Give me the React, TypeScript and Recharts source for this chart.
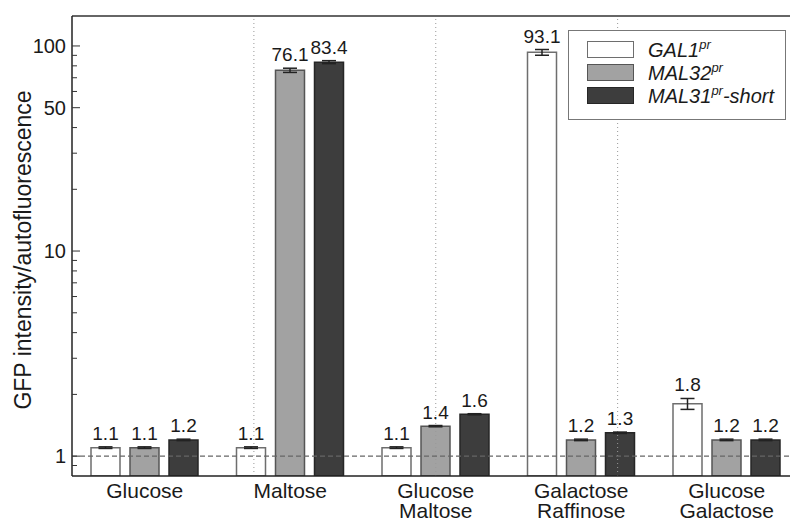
import React from 'react';
import {
  BarChart,
  Bar,
  XAxis,
  YAxis,
  ErrorBar,
  LabelList,
  ReferenceLine,
  Legend,
} from 'recharts';

// media / conditions (two-line labels split on \n)
const categories = ['Glucose', 'Maltose', 'Glucose\nMaltose', 'Galactose\nRaffinose', 'Glucose\nGalactose'];

// fold change per promoter
const gal1 = [1.1, 1.1, 1.1, 93.1, 1.8];
const mal32 = [1.1, 76.1, 1.4, 1.2, 1.2];
const mal31 = [1.2, 83.4, 1.6, 1.3, 1.2];

// error bar half-widths (estimated)
const gal1Err = [0.01, 0.01, 0.01, 3.0, 0.11];
const mal32Err = [0.01, 1.8, 0.01, 0.01, 0.01];
const mal31Err = [0.01, 1.4, 0.01, 0.01, 0.01];

const majorTicks = [1, 10, 50, 100];
const yTicks = [0.9, 1, 2, 3, 4, 5, 6, 7, 8, 9, 10, 20, 30, 40, 50, 60, 70, 80, 90, 100];

const Y_MIN = 0.8;
const Y_MAX = 140;

const W = 820;
const H = 520;
const M = { top: 16, right: 20.5, bottom: 0, left: 0 };
const X_AXIS_H = 44;
const PLOT_H = H - M.top - M.bottom - X_AXIS_H;
const PX_PER_DECADE = PLOT_H / Math.log10(Y_MAX / Y_MIN);

const FONT = '"Liberation Sans", Arial, Helvetica, sans-serif';

const series = [
  { key: 'gal1', err: 'gal1Err', vals: gal1, errs: gal1Err, fill: '#ffffff', stroke: '#6e6e6e', name: 'GAL1', suffix: '' },
  { key: 'mal32', err: 'mal32Err', vals: mal32, errs: mal32Err, fill: '#a2a2a2', stroke: '#555555', name: 'MAL32', suffix: '' },
  { key: 'mal31', err: 'mal31Err', vals: mal31, errs: mal31Err, fill: '#3d3d3d', stroke: '#262626', name: 'MAL31', suffix: '-short' },
];

const rows = categories.map((name, i) => ({
  name,
  gal1: gal1[i],
  mal32: mal32[i],
  mal31: mal31[i],
  gal1Err: gal1Err[i],
  mal32Err: mal32Err[i],
  mal31Err: mal31Err[i],
}));

const CatTick = ({ x, y, payload }: any) => {
  const lines = String(payload.value).split('\n');
  return (
    <g>
      {lines.map((l, i) => (
        <text key={i} x={x} y={y + 22 + i * 20} textAnchor="middle" fontSize={21} fontFamily={FONT} fill="#1a1a1a">
          {l}
        </text>
      ))}
    </g>
  );
};

const YTick = ({ x, y, payload }: any) => {
  const v = payload.value;
  const major = majorTicks.includes(v);
  return (
    <g>
      <line x1={x} x2={x + (major ? 8 : 5)} y1={y} y2={y} stroke="#333" strokeWidth={1} />
      {major && (
        <text x={x - 6} y={y} dy={7} textAnchor="end" fontSize={20} fontFamily={FONT} fill="#1a1a1a">
          {v}
        </text>
      )}
    </g>
  );
};

// value label sits just above the error bar's upper whisker
const makeLabel = (vals: number[], errs: number[]) => (p: any) => {
  const i = p.index;
  const v = vals[i];
  const e = errs[i];
  const lift = PX_PER_DECADE * Math.log10((v + e) / v);
  return (
    <text
      x={Number(p.x) + Number(p.width) / 2}
      y={Number(p.y) - lift - 7}
      textAnchor="middle"
      fontSize={19}
      fontFamily={FONT}
      fill="#1a1a1a"
    >
      {v.toFixed(1)}
    </text>
  );
};

const LegendBox = () => (
  <div
    style={{
      boxSizing: 'border-box',
      width: 218,
      height: 90,
      border: '1.5px solid #777',
      background: '#fff',
      padding: '7px 0 0 18px',
      fontFamily: FONT,
    }}
  >
    {series.map((s) => (
      <div key={s.key} style={{ display: 'flex', alignItems: 'center', height: 23 }}>
        <span
          style={{
            display: 'inline-block',
            boxSizing: 'border-box',
            width: 47,
            height: 17,
            background: s.fill,
            border: `1.5px solid ${s.stroke}`,
            marginRight: 14,
          }}
        />
        <span style={{ fontStyle: 'italic', fontSize: 20, color: '#1a1a1a', lineHeight: 1, whiteSpace: 'nowrap' }}>
          {s.name}
          <span style={{ fontSize: 13, position: 'relative', top: -8 }}>pr</span>
          {s.suffix}
        </span>
      </div>
    ))}
  </div>
);

export default function App() {
  return (
    <div style={{ position: 'absolute', left: 0, top: 0, width: 790, height: 520, overflow: 'hidden', background: '#fff' }}>
      <BarChart width={W} height={H} data={rows} margin={M} barCategoryGap={19} barGap={10}>
        <XAxis
          dataKey="name"
          height={X_AXIS_H}
          tickLine={false}
          tickSize={0}
          tickMargin={0}
          interval={0}
          axisLine={{ stroke: '#222', strokeWidth: 1.5 }}
          tick={<CatTick />}
        />
        <XAxis xAxisId="div" type="number" domain={[0, categories.length]} hide />
        <YAxis
          width={72}
          scale="log"
          type="number"
          domain={[Y_MIN, Y_MAX]}
          allowDataOverflow
          ticks={yTicks}
          interval={0}
          tickLine={false}
          tickSize={0}
          tickMargin={0}
          axisLine={{ stroke: '#222', strokeWidth: 1.5 }}
          tick={<YTick />}
          label={{
            content: () => (
              <text
                x={31}
                y={250}
                transform="rotate(-90 31 250)"
                textAnchor="middle"
                fontSize={23}
                fontFamily={FONT}
                fill="#1a1a1a"
              >
                GFP intensity/autofluorescence
              </text>
            ),
          }}
        />
        {[1, 2, 3, 4].map((d) => (
          <ReferenceLine key={d} x={d} xAxisId="div" stroke="#999" strokeDasharray="1 3" />
        ))}
        <ReferenceLine x={categories.length} xAxisId="div" stroke="#333" strokeWidth={1.5} />
        <ReferenceLine y={Y_MAX} stroke="#333" strokeWidth={1.5} />
        <ReferenceLine y={1} stroke="#666" strokeDasharray="5 3" strokeWidth={1.2} />
        {series.map((s) => (
          <Bar
            key={s.key}
            dataKey={s.key}
            fill={s.fill}
            stroke={s.stroke}
            strokeWidth={1.5}
            isAnimationActive={false}
          >
            <ErrorBar dataKey={s.err} width={7} stroke="#222" strokeWidth={1.5} />
            <LabelList dataKey={s.key} content={makeLabel(s.vals, s.errs)} />
          </Bar>
        ))}
        <Legend
          layout="vertical"
          align="center"
          verticalAlign="middle"
          content={() => <LegendBox />}
          wrapperStyle={{ left: 568, top: 30, width: 218, height: 90 }}
        />
      </BarChart>
    </div>
  );
}
